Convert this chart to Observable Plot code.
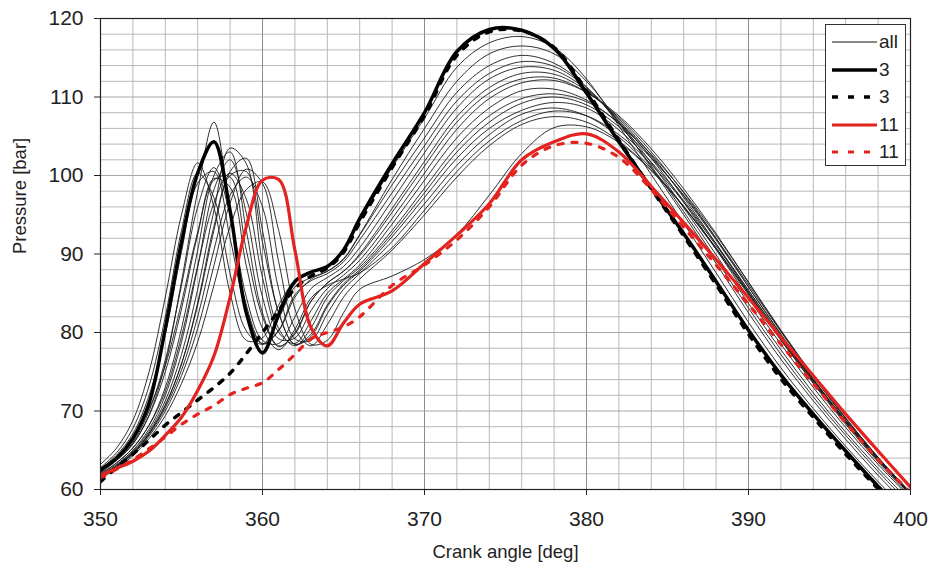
<!DOCTYPE html>
<html>
<head>
<meta charset="utf-8">
<script src="https://cdn.jsdelivr.net/npm/d3@7"></script>
<script src="https://cdn.jsdelivr.net/npm/@observablehq/plot@0.6"></script>
<style>
  html, body { margin: 0; padding: 0; background: #fff; }
  #wrap { position: relative; width: 934px; height: 577px; font-family: "Liberation Sans", Arial, sans-serif; }
  #legend { position: absolute; left: 825px; top: 24px; width: 81px; height: 142px; border: 1px solid #333; background: #fff; box-sizing: border-box; }
  #legend .row { position: absolute; left: 5px; height: 22px; display: flex; align-items: center; font-size: 19px; color: #222; }
  #legend svg { display: block; }
</style>
</head>
<body>
<div id="wrap"><div id="legend"></div></div>
<script>
// Crank angle sampling [deg]
const angle = [350,351,352,353,354,355,356,357,358,359,360,361,362,363,364,365,366,
               368,370,372,374,376,378,380,382,384,386,388,390,392,394,396,398,400];

// Highlighted runs [bar]
const run3 = [62.5,64,66.5,71,80.5,91.5,100.3,104.3,95.5,82.5,77.4,82.3,86.5,87.7,88.4,90.5,94.5,
              101.5,108,115.8,118.6,118.5,116.2,110.5,104.3,98.4,92.6,86.5,80.3,74.6,69.6,64.9,60.4,56.3];
const run3Dashed = [61,62.8,64.5,66.3,68.2,69.8,71.4,73,74.8,77.3,80,82.8,85.6,87.2,88.2,90.2,94,
              101,107.6,115.3,118.3,118.4,116.3,110.8,104.5,98.3,92.3,86.1,79.8,74.1,69.2,64.5,60.1,56];
const run11 = [61.8,62.7,63.6,64.9,66.9,69.2,72.6,77,84.5,93.5,99.4,99.5,90.5,80.6,78.3,81.2,83.6,
              85.3,88.8,92.4,96.4,102,104.3,105.3,103,98.6,94,89.3,84.4,79.4,74.5,69.6,64.9,60.3];
const run11Dashed = [61.5,62.6,63.8,65.2,66.7,68.3,69.6,70.7,72.1,72.9,73.6,75.3,77.2,79.2,80,80.7,82,
              86,88.6,91.8,96,101.3,103.8,104.1,102.3,98.2,93.4,88.6,83.6,78.5,73.5,68.5,63.8,59.6];

// All other runs ("all") [bar]
const thin01 = [63.2,65.3,68.8,75,84.5,95,101.6,96,85,79,79.3,83.5,86.6,87.6,88.5,90.6,94.2,
              101,107.3,113.8,116.9,117.7,116.3,112.3,106.3,100.1,93.9,87.6,81.3,75.5,70.3,65.5,61,56.9];
const thin02 = [62.3,63.8,65.8,69.5,76,86.5,98,106.8,95.5,83.5,78.6,80.2,84.5,86.8,87.8,89.4,92.5,
              99.5,106,112,115.5,116.5,115.5,112,106.8,101,95,88.8,82.5,76.6,71.3,66.4,61.8,57.6];
const thin03 = [62.8,64.7,67.8,73.2,82,93,100.3,97.2,87.5,80.2,78.5,81.8,85.8,87,87.8,89.3,92.4,
              98.8,104.8,110.6,114,115.3,114.3,111.3,106.6,101.2,95.4,89.3,83.1,77.2,71.8,66.9,62.3,58];
const thin04 = [62.6,64.4,67.1,72,79.8,90.3,99,100.5,92,82.8,78.5,80.3,84.8,86.6,87.5,89,91.8,
              97.8,103.8,109.5,113,114.5,113.9,111.2,106.8,101.6,95.9,89.9,83.7,77.8,72.3,67.3,62.7,58.4];
const thin05 = [62.2,63.8,66,70,76.5,86,96,101,95,84.5,79,78.6,82,85.6,87,88.4,90.8,
              96.8,102.9,108.6,112.3,113.8,113.4,111,107,102.2,96.6,90.6,84.4,78.5,73,67.9,63.2,58.9];
const thin06 = [62.4,64.1,66.4,70.3,75.8,83.8,92.8,99.4,99.8,90.5,82,78.2,80,84,86.3,87.8,90,
              95.8,101.8,107.5,111.2,113,112.9,110.8,107.2,102.6,97.2,91.3,85.1,79.1,73.5,68.3,63.5,59.1];
const thin07 = [62,63.4,65.3,68.2,73,80.5,90.5,100,103,93,82.5,78.3,79.8,84,86.3,87.8,89.8,
              95.3,101.2,106.8,110.5,112.3,112.4,110.6,107.4,103,97.8,92,85.8,79.7,74,68.7,63.8,59.3];
const thin08 = [61.8,63.2,65,67.7,72,78.8,88.3,98.2,102,95.2,84.5,79.2,79.3,82.8,85.6,87.3,89.2,
              94.5,100.3,105.9,109.8,111.8,112.1,110.6,107.6,103.4,98.3,92.6,86.4,80.2,74.4,69,64,59.5];
const thin09 = [61.9,63.4,65.3,68.2,72.5,79.5,88.5,96.5,100.3,97,87,80,78.6,81.5,85,86.8,88.6,
              93.8,99.4,104.8,108.6,110.8,111,109.6,106.6,102.4,97.4,91.8,85.8,79.8,74.1,68.8,63.9,59.4];
const thin10 = [61.7,63.1,64.9,67.4,71.3,77.2,85.5,95.5,103.5,101.5,88.8,80.5,78.3,80.6,84.5,86.6,88.3,
              93,98.4,103.7,107.6,109.8,110.4,109.4,106.7,102.7,97.9,92.4,86.4,80.3,74.5,69.1,64.1,59.6];
const thin11 = [61.6,63,64.7,67.1,70.7,76,83.8,93.5,100,100.5,91.5,82.5,78.5,79.8,83.5,86.2,88,
              92.6,97.8,103,106.8,109.2,110,109,106.2,102.2,97.5,92,86.1,80.1,74.4,69.1,64.1,59.6];
const thin12 = [61.6,63,64.7,67.2,70.8,76,83.5,93,100.5,102.2,93,82.5,78.5,79.5,83.3,86,87.8,
              92.2,97.2,102.2,106,108.3,109.3,108.6,105.8,101.7,96.8,91.3,85.4,79.5,73.9,68.7,63.8,59.4];
const thin13 = [61.5,62.9,64.6,67,70.4,75.2,82,90.5,97.5,99.8,96,85.5,79.2,79,82.4,85.5,87.5,
              91.6,96.4,101.3,105.2,107.8,108.6,107.6,104.9,100.9,96.1,90.8,85,79.2,73.7,68.5,63.7,59.3];
const thin14 = [61.5,62.9,64.5,66.8,70,74.5,80.5,88.5,96.5,100.8,99,89,80.5,78.3,81,84.5,86.8,
              90.5,95,99.8,103.8,106.5,107.5,106.8,104.4,100.7,96,90.6,84.8,79,73.6,68.5,63.7,59.4];
const thin15 = [61.4,62.7,64.3,66.5,69.4,73.5,78.8,86,93.5,98.2,99.2,93,83,78.5,79,82.5,85.5,
              87.2,89.3,92.5,97.5,102.8,106.1,106.2,104.2,100.6,96,90.7,85,79.3,73.9,68.8,64,59.6];
const thin16 = [62.1,63.7,65.8,69.4,75,83,92.5,99.6,98.5,88.5,80.5,77.8,80.4,84.4,86,86.8,87.6,
              90.8,95.6,100.5,104.4,107,108.2,107.6,105.2,101.4,96.6,91.1,85.3,79.4,73.8,68.6,63.8,59.4];
const thinRuns = [thin01,thin02,thin03,thin04,thin05,thin06,thin07,thin08,
                  thin09,thin10,thin11,thin12,thin13,thin14,thin15,thin16];

// Axis ticks and grid
const xTicks = [350,360,370,380,390,400];
const yTicks = [60,70,80,90,100,110,120];
const xGrid = [352,354,356,358,362,364,366,368,372,374,376,378,382,384,386,388,392,394,396,398];
const yGrid = [62,64,66,68,72,74,76,78,82,84,86,88,92,94,96,98,102,104,106,108,112,114,116,118];

const legendItems = [
  {label: "all", color: "#111", width: 1, dash: null},
  {label: "3", color: "#000", width: 3.5, dash: null},
  {label: "3", color: "#000", width: 3.5, dash: "6,10"},
  {label: "11", color: "#e2231f", width: 3.2, dash: null},
  {label: "11", color: "#e2231f", width: 3.2, dash: "6,10"}
];

function rows(values, series) {
  return angle.map((a, i) => ({angle: a, p: values[i], series}));
}
const thinRows = thinRuns.flatMap((v, k) => rows(v, "run" + k));

const RED = "#e2231f";
const curve = "catmull-rom";

const chart = Plot.plot({
  width: 934,
  height: 577,
  marginLeft: 100,
  marginRight: 24,
  marginTop: 18,
  marginBottom: 88,
  style: {fontFamily: "'Liberation Sans', Arial, sans-serif", fontSize: "21px", color: "#222", background: "#fff"},
  x: {domain: [350, 400]},
  y: {domain: [60, 120]},
  marks: [
    Plot.gridX(xGrid, {stroke: "#b8b8b8", strokeOpacity: 1, strokeWidth: 1}),
    Plot.gridY(yGrid, {stroke: "#b8b8b8", strokeOpacity: 1, strokeWidth: 1}),
    Plot.gridX(xTicks, {stroke: "#8c8c8c", strokeOpacity: 1, strokeWidth: 1}),
    Plot.gridY(yTicks, {stroke: "#a8a8a8", strokeOpacity: 1, strokeWidth: 1}),
    Plot.line(thinRows, {x: "angle", y: "p", z: "series", stroke: "#1a1a1a", strokeWidth: 0.9, curve, clip: true}),
    Plot.line(rows(run3, "3"), {x: "angle", y: "p", stroke: "#000", strokeWidth: 3.5, curve, clip: true}),
    Plot.line(rows(run3Dashed, "3d"), {x: "angle", y: "p", stroke: "#000", strokeWidth: 3.5, strokeDasharray: "5,9", curve, clip: true}),
    Plot.line(rows(run11Dashed, "11d"), {x: "angle", y: "p", stroke: RED, strokeWidth: 3.2, strokeDasharray: "5,9", curve, clip: true}),
    Plot.line(rows(run11, "11"), {x: "angle", y: "p", stroke: RED, strokeWidth: 3.2, curve, clip: true}),
    Plot.frame({stroke: "#222", strokeWidth: 1.2}),
    Plot.axisX({ticks: xTicks, tickSize: 6, tickPadding: 16, label: null, stroke: "#222", fontSize: 21}),
    Plot.axisY({ticks: yTicks, tickSize: 6, tickPadding: 11, label: null, stroke: "#222", fontSize: 21}),
    Plot.text(["Crank angle [deg]"], {frameAnchor: "bottom", dy: 68, fontSize: 18.5, fill: "#222"}),
    Plot.text(["Pressure [bar]"], {frameAnchor: "left", dx: -80, rotate: -90, fontSize: 18.5, fill: "#222"})
  ]
});

const wrap = document.getElementById("wrap");
wrap.insertBefore(chart, wrap.firstChild);

// Legend (inside plot area, top right)
const legend = d3.select("#legend");
legendItems.forEach((it, i) => {
  const row = legend.append("div").attr("class", "row").style("top", (6 + i * 27.5) + "px");
  const s = row.append("svg").attr("width", 47).attr("height", 10);
  s.append("line").attr("x1", 1).attr("x2", 46).attr("y1", 5).attr("y2", 5)
    .attr("stroke", it.color).attr("stroke-width", it.width)
    .attr("stroke-dasharray", it.dash);
  row.append("span").text(it.label).style("margin-left", "1px");
});
</script>
</body>
</html>
